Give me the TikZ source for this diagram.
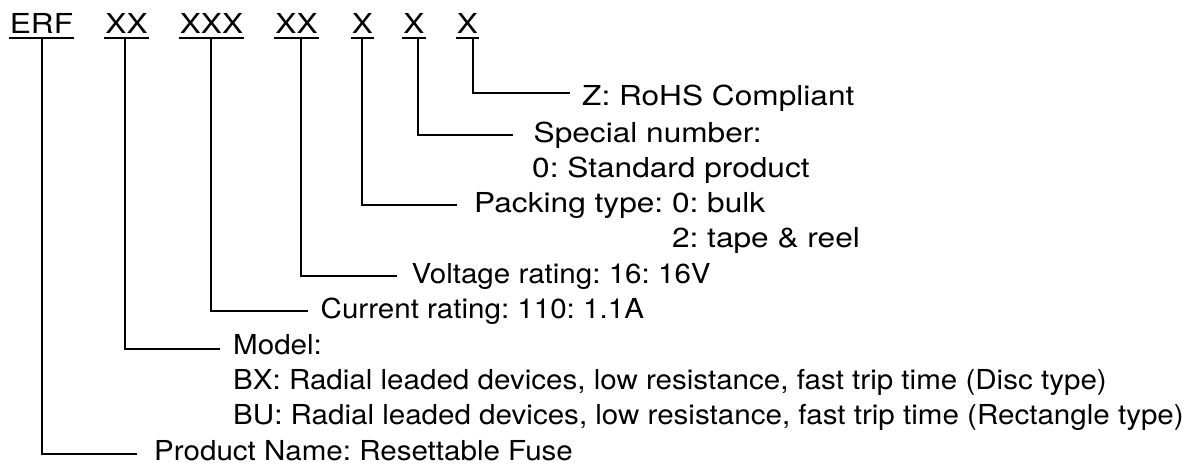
\documentclass[tikz,border=0pt]{standalone}
\usepackage{fontspec}
\setmainfont{TeX Gyre Heros}
\usetikzlibrary{positioning}
\frenchspacing
\tikzset{
code/.style={
  font={\fontsize{27.5}{35}\selectfont\addfontfeature{FakeStretch=1.15}},
  inner xsep=1pt,
  inner ysep=0pt,
  text depth=4.7pt,
  anchor=base
},
lbl/.style={
  font={\fontsize{27.5}{35}\selectfont\addfontfeature{FakeStretch=#1}},
  inner sep=0pt,
  text height=15pt,
  text depth=0pt,
  anchor=base west
},
lbl/.default=1.075,
uline/.style={line width=2pt},
link/.style={line width=2pt, shorten >=#1},
link/.default=14pt
}

\begin{document}
\begin{tikzpicture}[x=1pt,y=-1pt]
    \useasboundingbox (0,0) rectangle (1192,466);
    \node[code] (erf)      at (41.5,33.3) {ERF};
    \node[code] (xmodel)   at (126.5,33.3) {XX};
    \node[code] (xcurrent) at (211.5,33.3) {XXX};
    \node[code] (xvoltage) at (296.5,33.3) {XX};
    \node[code] (xpack)    at (362.5,33.3) {X};
    \node[code] (xspecial) at (414,33.3)   {X};
    \node[code] (xrohs)    at (467.5,33.3) {X};
    \foreach \n in {erf,xmodel,xcurrent,xvoltage,xpack,xspecial,xrohs}
        \draw[uline] (\n.south west) -- (\n.south east);

    \node[lbl=1.15] (rohs)     at (582,105.5)   {Z: RoHS Compliant};
    \node[lbl=1.15] (special)  at (533.5,142)   {Special number:};
    \node[lbl=1.15] (special2) at (532,177)     {0: Standard product};
    \node[lbl=1.15] (pack)     at (474,212)     {Packing type: 0: bulk};
    \node[lbl=1.15] (pack2)    at (474,247)     {\hphantom{Packing type: }2: tape \& reel};
    \node[lbl] (volt)     at (411.5,283)   {Voltage rating: 16: 16V};
    \node[lbl] (curr)     at (320.5,318.5) {Current rating: 110: 1.1A};
    \node[lbl] (model)    at (233,354)     {Model:};
    \node[lbl] (bx)       at (233,389)     {BX: Radial leaded devices, low resistance, fast trip time (Disc type)};
    \node[lbl] (bu)       at (233,424.5)   {BU: Radial leaded devices, low resistance, fast trip time (Rectangle type)};
    \node[lbl] (prod)     at (154,460)     {Product Name: Resettable Fuse};

    \draw[link=12pt]   ([xshift=5.5pt]xrohs.south)    |- ([yshift=5.5pt]rohs.west);
    \draw[link=20.5pt] ([xshift=4pt]xspecial.south)   |- (special.west);
    \draw[link=17pt]   ([xshift=-0.5pt]xpack.south)   |- (pack.west);
    \draw[link=14.5pt] ([xshift=4.5pt]xvoltage.south) |- (volt.west);
    \draw[link=12.5pt] ([xshift=-0.5pt]xcurrent.south) |- (curr.west);
    \draw[link=13pt]   ([xshift=-1.5pt]xmodel.south)  |- ([yshift=-2pt]model.west);
    \draw[link=17pt]   ([xshift=0.5pt]erf.south)      |- ([yshift=-1.5pt]prod.west);
\end{tikzpicture}
\end{document}
